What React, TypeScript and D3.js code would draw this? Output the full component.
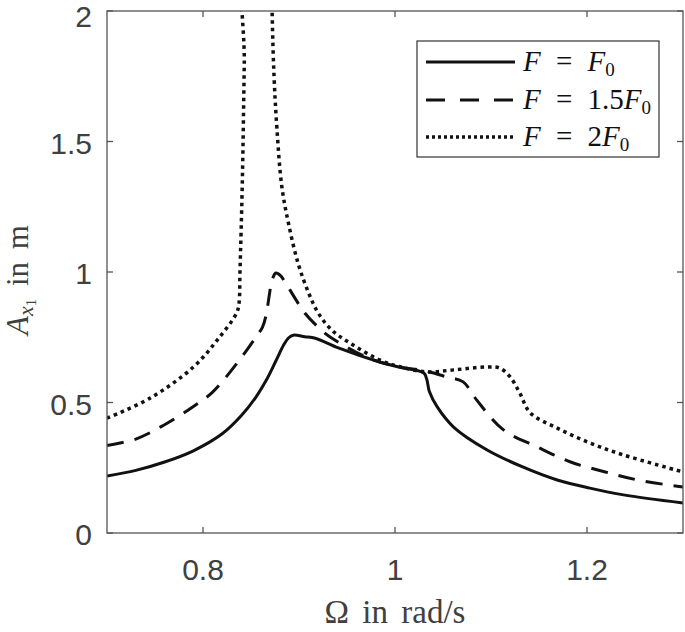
import React from "react";
import * as d3 from "d3";

// readings: forcing frequency (rad/s) vs amplitude A_x1 (m)
const omegaF1 = [0.7, 0.73, 0.76, 0.79, 0.82, 0.84, 0.855, 0.866, 0.876, 0.884, 0.889, 0.894, 0.906, 0.917, 0.941, 0.984, 1.004, 1.03, 1.033, 1.036, 1.044, 1.061, 1.096, 1.133, 1.169, 1.203, 1.238, 1.3];
const ampF1 = [0.218, 0.24, 0.272, 0.315, 0.38, 0.45, 0.52, 0.586, 0.66, 0.72, 0.747, 0.758, 0.752, 0.746, 0.709, 0.655, 0.636, 0.613, 0.59, 0.54, 0.483, 0.406, 0.318, 0.253, 0.203, 0.172, 0.146, 0.115];

const omegaF15 = [0.7, 0.73, 0.76, 0.79, 0.81, 0.838, 0.855, 0.862, 0.866, 0.869, 0.872, 0.876, 0.881, 0.886, 0.899, 0.906, 0.923, 0.934, 0.97, 1.004, 1.03, 1.054, 1.071, 1.085, 1.113, 1.148, 1.183, 1.219, 1.253, 1.3];
const ampF15 = [0.335, 0.36, 0.415, 0.485, 0.54, 0.663, 0.75, 0.789, 0.84, 0.91, 0.97, 0.996, 0.985, 0.958, 0.881, 0.843, 0.778, 0.747, 0.674, 0.636, 0.622, 0.598, 0.579, 0.51, 0.395, 0.33, 0.272, 0.234, 0.203, 0.176];

const omegaF2 = [0.7, 0.745, 0.79, 0.815, 0.835, 0.8375, 0.8385, 0.841, 0.843, 0.845, 0.871, 0.872, 0.874, 0.877, 0.882, 0.889, 0.899, 0.91, 0.92, 0.934, 0.953, 0.984, 1.004, 1.033, 1.061, 1.096, 1.109, 1.12, 1.13, 1.141, 1.169, 1.203, 1.238, 1.3];
const ampF2 = [0.44, 0.517, 0.636, 0.74, 0.843, 0.88, 1.0, 1.35, 1.8, 2.3, 2.3, 2.0, 1.75, 1.55, 1.33, 1.187, 1.034, 0.92, 0.843, 0.778, 0.728, 0.663, 0.638, 0.617, 0.625, 0.636, 0.632, 0.598, 0.536, 0.46, 0.402, 0.345, 0.299, 0.234];

const xTicks = [0.8, 1, 1.2];
const yTicks = [0, 0.5, 1, 1.5, 2];
const legendFactors = ["", "1.5", "2"]; // multiplier in front of F0

const W = 685;
const H = 632;
const m = { left: 107, right: 2, top: 11, bottom: 99 };

const series = [
  { xs: omegaF1, ys: ampF1, dash: null, legendDash: null, width: 3 },
  { xs: omegaF15, ys: ampF15, dash: "17,11", legendDash: "19,15", width: 3 },
  { xs: omegaF2, ys: ampF2, dash: "3.5,4", legendDash: "3,3", width: 3.5 },
];

const App = () => {
  const x = d3.scaleLinear().domain([0.7, 1.3]).range([m.left, W - m.right]);
  const y = d3.scaleLinear().domain([0, 2]).range([H - m.bottom, m.top]);

  const line = d3
    .line<[number, number]>()
    .x((d) => x(d[0]))
    .y((d) => y(d[1]))
    .curve(d3.curveCatmullRom.alpha(0.5));

  const axisColor = "#555";
  const textColor = "#404040";
  const tickFont = "'Liberation Sans', Arial, sans-serif";
  const mathFont = "'Liberation Serif', 'DejaVu Serif', serif";
  const x0 = m.left;
  const x1 = W - m.right;
  const y0 = H - m.bottom;
  const y1 = m.top;

  const legend = { x: 417, y: 41, w: 242, h: 116 };
  const rowY = [62, 100, 137];

  return (
    <div style={{ position: "absolute", left: 0, top: 0 }}>
      <svg width={W} height={H} style={{ display: "block", background: "#fff" }}>
        <defs>
          <clipPath id="plot">
            <rect x={x0} y={y1} width={x1 - x0} height={y0 - y1} />
          </clipPath>
        </defs>

        <g clipPath="url(#plot)">
          {series.map((s, i) => (
            <path
              key={i}
              d={line(s.xs.map((v, j) => [v, s.ys[j]] as [number, number])) || ""}
              fill="none"
              stroke="#111"
              strokeWidth={s.width}
              strokeDasharray={s.dash || undefined}
              strokeLinejoin="round"
            />
          ))}
        </g>

        {/* box + inward ticks */}
        <rect x={x0} y={y1} width={x1 - x0} height={y0 - y1} fill="none" stroke={axisColor} strokeWidth={1.3} />
        {xTicks.map((t) => (
          <g key={t}>
            <line x1={x(t)} x2={x(t)} y1={y0} y2={y0 - 6} stroke={axisColor} strokeWidth={1.3} />
            <line x1={x(t)} x2={x(t)} y1={y1} y2={y1 + 6} stroke={axisColor} strokeWidth={1.3} />
            <text x={x(t)} y={y0 + 47} textAnchor="middle" fontFamily={tickFont} fontSize={30} fill={textColor}>
              {t}
            </text>
          </g>
        ))}
        {yTicks.map((t) => (
          <g key={t}>
            <line x1={x0} x2={x0 + 6} y1={y(t)} y2={y(t)} stroke={axisColor} strokeWidth={1.3} />
            <line x1={x1} x2={x1 - 6} y1={y(t)} y2={y(t)} stroke={axisColor} strokeWidth={1.3} />
            <text x={x0 - 15} y={Math.max(y(t) + 12, 27)} textAnchor="end" fontFamily={tickFont} fontSize={30} fill={textColor}>
              {t}
            </text>
          </g>
        ))}

        {/* axis titles */}
        <text
          x={(x0 + x1) / 2}
          y={623}
          textAnchor="middle"
          fontFamily={mathFont}
          fontSize={33}
          wordSpacing={5}
          fill={textColor}
        >
          Ω in rad/s
        </text>
        <text
          transform={`translate(28, 280) rotate(-90)`}
          textAnchor="middle"
          fontFamily={mathFont}
          fontSize={31}
          wordSpacing={5}
          fill={textColor}
        >
          <tspan fontStyle="italic">A</tspan>
          <tspan fontStyle="italic" fontSize={22} dy={5}>x</tspan>
          <tspan fontSize={15} dy={3}>1</tspan>
          <tspan dy={-8}> in m</tspan>
        </text>

        {/* legend */}
        <rect x={legend.x} y={legend.y} width={legend.w} height={legend.h} fill="#fff" stroke="#333" strokeWidth={1.2} />
        {series.map((s, i) => (
          <g key={i}>
            <line
              x1={426}
              x2={515}
              y1={rowY[i]}
              y2={rowY[i]}
              stroke="#111"
              strokeWidth={s.width}
              strokeDasharray={s.legendDash || undefined}
            />
            <text x={523} y={rowY[i] + 9} fontFamily={mathFont} fontSize={29} wordSpacing={8} fill="#111">
              <tspan fontStyle="italic">F</tspan>
              <tspan> = </tspan>
              {legendFactors[i] && <tspan>{legendFactors[i]}</tspan>}
              <tspan fontStyle="italic">F</tspan>
              <tspan fontSize={19} dy={5}>0</tspan>
            </text>
          </g>
        ))}
      </svg>
    </div>
  );
};

export default App;
